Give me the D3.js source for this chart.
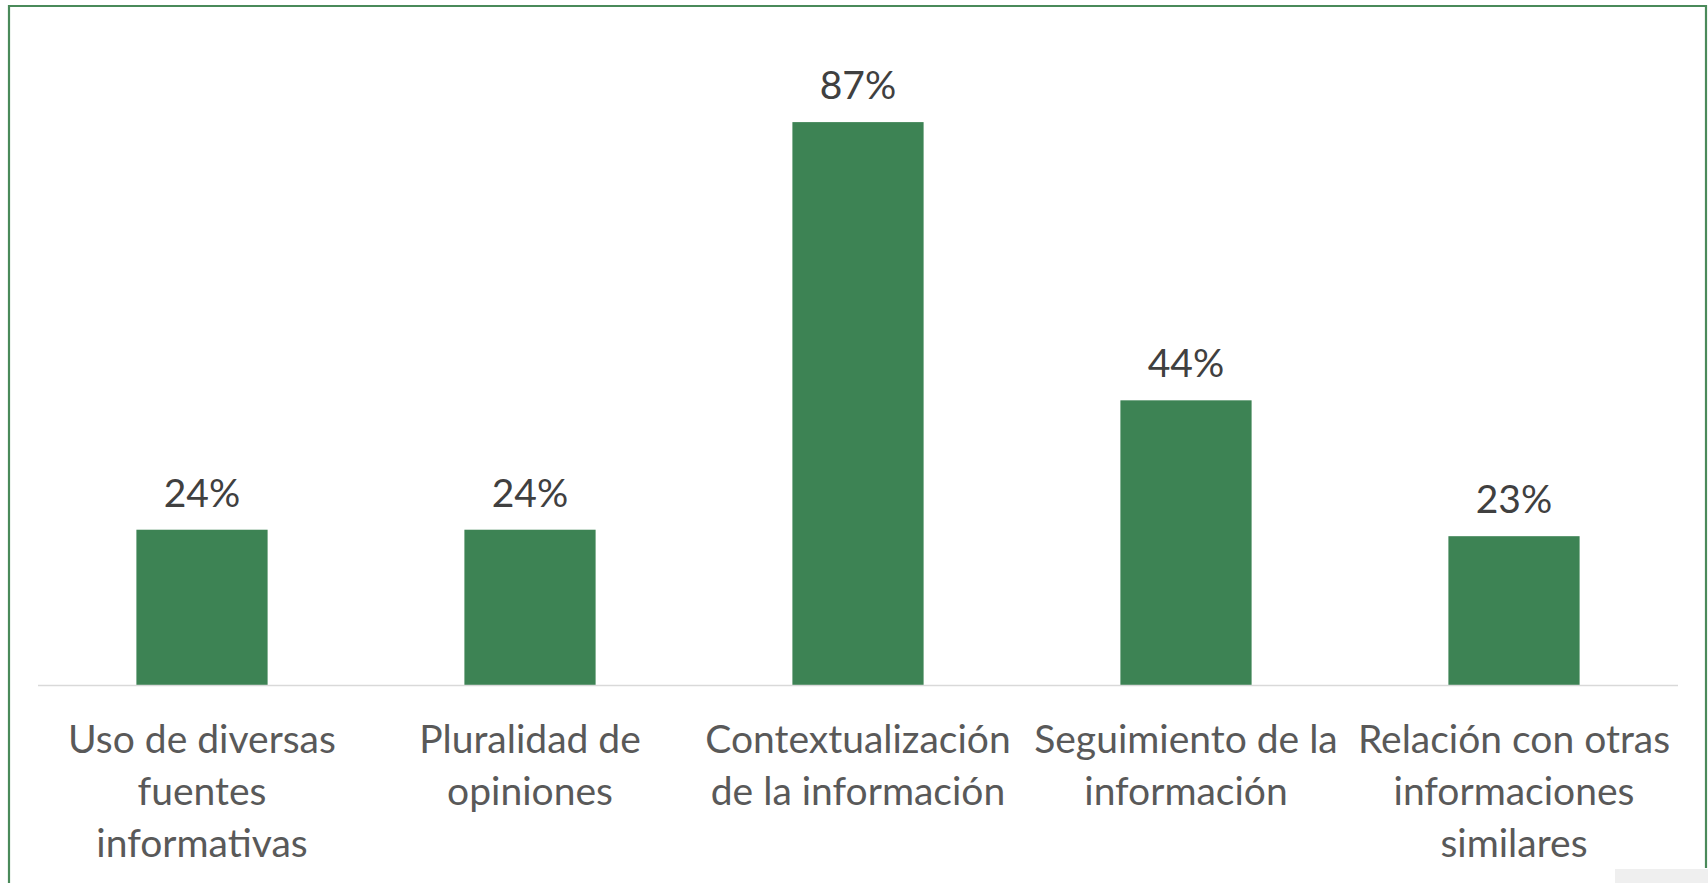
<!DOCTYPE html>
<html>
<head>
<meta charset="utf-8">
<script src="https://cdn.jsdelivr.net/npm/d3@7/dist/d3.min.js"></script>
<style>
  html, body { margin: 0; padding: 0; background: #ffffff; }
  svg { display: block; }
</style>
</head>
<body>
<svg id="chart" width="1708" height="883"></svg>
<script>
// Category labels (line breaks marked with "\n") and their shares
const categories = [
  "Uso de diversas\nfuentes\ninformativas",
  "Pluralidad de\nopiniones",
  "Contextualización\nde la información",
  "Seguimiento de la\ninformación",
  "Relación con otras\ninformaciones\nsimilares"
];
const values = [0.24, 0.24, 0.87, 0.44, 0.23];

const W = 1708, H = 883;
const svg = d3.select("#chart");
const FONT = "Lato, 'Open Sans', sans-serif";

// frame of the chart area
svg.append("rect").attr("x", 0).attr("y", 0).attr("width", W).attr("height", H).attr("fill", "#ffffff");
svg.append("path")
  .attr("d", "M9,884 L9,6 L1706,6 L1706,868")
  .attr("fill", "none")
  .attr("stroke", "#4a8a5a")
  .attr("stroke-width", 2.2);
svg.append("rect").attr("x", 1615).attr("y", 869).attr("width", 93).attr("height", 14).attr("fill", "#efefef");

const x = d3.scaleBand()
  .domain(categories)
  .range([38, 1678])
  .paddingInner(0.6)
  .paddingOuter(0.3);

const y = d3.scaleLinear().domain([0, 1]).range([685, 38]);

// bars
svg.append("g").selectAll("rect")
  .data(categories)
  .join("rect")
  .attr("x", d => x(d))
  .attr("y", (d, i) => y(values[i]))
  .attr("width", x.bandwidth())
  .attr("height", (d, i) => y(0) - y(values[i]))
  .attr("fill", "#3d8354");

// category axis line
svg.append("line")
  .attr("x1", x.range()[0]).attr("x2", x.range()[1])
  .attr("y1", y(0) + 0.5).attr("y2", y(0) + 0.5)
  .attr("stroke", "#d9d9d9").attr("stroke-width", 1.6);

// value labels
svg.append("g").selectAll("text")
  .data(categories)
  .join("text")
  .attr("x", d => x(d) + x.bandwidth() / 2)
  .attr("y", (d, i) => y(values[i]) - 23)
  .attr("text-anchor", "middle")
  .attr("font-family", FONT)
  .attr("font-size", 39)
  .attr("fill", "#404040")
  .text((d, i) => Math.round(values[i] * 100) + "%");

// category labels, one tspan per line
const lab = svg.append("g").selectAll("text")
  .data(categories)
  .join("text")
  .attr("text-anchor", "middle")
  .attr("font-family", FONT)
  .attr("font-size", 39)
  .attr("fill", "#595959");
lab.each(function (d) {
  const t = d3.select(this);
  const cx = x(d) + x.bandwidth() / 2;
  d.split("\n").forEach((line, k) => {
    t.append("tspan").attr("x", cx).attr("y", 753 + k * 52).text(line);
  });
});
</script>
</body>
</html>
